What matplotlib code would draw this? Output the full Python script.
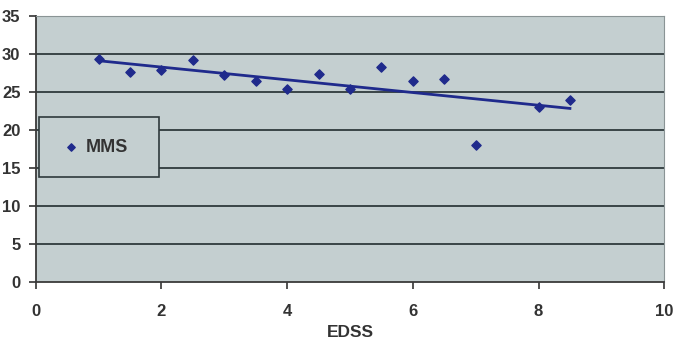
import numpy as np
import matplotlib.pyplot as plt

# EDSS vs MMS
edss = [1, 1.5, 2, 2.5, 3, 3.5, 4, 4.5, 5, 5.5, 6, 6.5, 7, 8, 8.5]
mms = [29.3, 27.6, 27.9, 29.2, 27.2, 26.4, 25.4, 27.4, 25.4, 28.3, 26.4, 26.7, 18.0, 23.0, 23.9]

plt.rcParams['font.family'] = ['Liberation Sans', 'DejaVu Sans']
plt.rcParams['font.weight'] = 'bold'

fig = plt.figure(figsize=(6.75, 3.51), dpi=100)
ax = fig.add_axes([0.053, 0.197, 0.931, 0.757])
ax.set_facecolor('#c4cfd0')

# lineas de la cuadricula
for y in range(5, 35, 5):
    ax.axhline(y, color='#2f3a3c', lw=1.3, zorder=1)

ax.scatter(edss, mms, marker='D', s=22, color='#1f2a8c', zorder=3, label='MMS')

# tendencia lineal
m, b = np.polyfit(edss, mms, 1)
xt = np.array([min(edss), max(edss)])
ax.plot(xt, m * xt + b, color='#1f2a8c', lw=2, zorder=2)

ax.set_xlim(0, 10)
ax.set_ylim(0, 35)
ax.set_xticks(range(0, 11, 2))
ax.set_yticks(range(0, 36, 5))
ax.tick_params(colors='#333333', labelsize=12, length=5, width=1.2, direction='out')
ax.tick_params(axis='x', pad=11)
ax.tick_params(axis='y', pad=6)
for s in ['left', 'bottom']:
    ax.spines[s].set_color('#3a3a3a')
    ax.spines[s].set_linewidth(1.3)
for s in ['top', 'right']:
    ax.spines[s].set_color('#8a9495')
ax.set_xlabel('EDSS', fontsize=12.5, color='#333333', fontweight='bold', labelpad=4)

leg = ax.legend(loc='upper left', bbox_to_anchor=(0.005, 0.395, 0.191, 0.225), mode='expand',
                frameon=True, fancybox=False,
                facecolor='#c4cfd0', edgecolor='#2f3a3c', fontsize=13,
                borderpad=1.2, handletextpad=0.2, borderaxespad=0, handlelength=1.2,
                markerscale=0.8)
leg.get_frame().set_linewidth(1.2)
leg.get_frame().set_alpha(1)
for t in leg.get_texts():
    t.set_color('#333333')

plt.savefig('out.png', dpi=100)
